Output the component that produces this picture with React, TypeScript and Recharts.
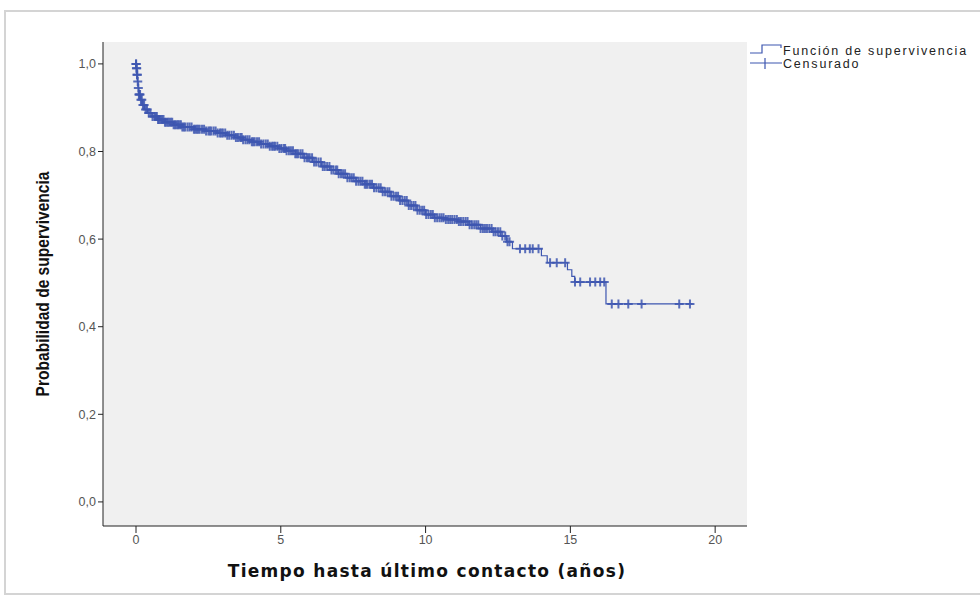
import React from 'react';
import { ComposedChart, Line, Scatter, XAxis, YAxis, CartesianGrid, Legend } from 'recharts';

// Kaplan-Meier step curve (time in years, survival probability)
const survTimes = [0, 0.01, 0.03, 0.05, 0.07, 0.1, 0.15, 0.22, 0.3, 0.4, 0.55, 0.75, 1.0, 1.3, 1.6, 2.0, 2.4, 2.8, 3.1, 3.4, 3.7, 4.0, 4.3, 4.6, 4.9, 5.2, 5.5, 5.8, 6.1, 6.4, 6.7, 7.0, 7.3, 7.6, 7.9, 8.2, 8.5, 8.8, 9.1, 9.4, 9.7, 10.0, 10.3, 10.7, 11.1, 11.5, 11.9, 12.3, 12.6, 12.8, 13.0, 14.0, 14.2, 14.9, 15.05, 15.15, 16.23, 19.22];
const survProbs = [1.0, 0.99, 0.975, 0.96, 0.945, 0.93, 0.918, 0.906, 0.896, 0.888, 0.88, 0.873, 0.867, 0.861, 0.856, 0.851, 0.847, 0.842, 0.837, 0.832, 0.827, 0.822, 0.817, 0.812, 0.807, 0.802, 0.795, 0.786, 0.776, 0.766, 0.758, 0.749, 0.74, 0.732, 0.725, 0.717, 0.708, 0.698, 0.688, 0.677, 0.666, 0.656, 0.649, 0.645, 0.64, 0.633, 0.624, 0.617, 0.607, 0.594, 0.578, 0.562, 0.546, 0.53, 0.515, 0.502, 0.452, 0.452];

// Censored observation times
const censorTimes = [0, 0.005, 0.015, 0.025, 0.035, 0.045, 0.06, 0.08, 0.1, 0.12, 0.14, 0.17, 0.2, 0.24, 0.28, 0.33, 0.38, 0.44, 0.5, 0.57, 0.64, 0.68, 0.72, 0.76, 0.8, 0.85, 0.9, 0.95, 1.0, 1.05, 1.1, 1.15, 1.2, 1.25, 1.3, 1.35, 1.4, 1.45, 1.5, 1.55, 1.6, 1.65, 1.7, 1.78, 1.85, 1.92, 2.0, 2.05, 2.1, 2.15, 2.2, 2.28, 2.35, 2.42, 2.5, 2.55, 2.6, 2.68, 2.75, 2.82, 2.9, 2.95, 3.0, 3.08, 3.15, 3.22, 3.3, 3.38, 3.45, 3.52, 3.6, 3.65, 3.7, 3.78, 3.85, 3.92, 4.0, 4.05, 4.1, 4.18, 4.25, 4.32, 4.4, 4.48, 4.55, 4.62, 4.7, 4.75, 4.8, 4.88, 4.95, 5.02, 5.1, 5.15, 5.2, 5.28, 5.35, 5.42, 5.5, 5.55, 5.6, 5.68, 5.75, 5.82, 5.9, 5.95, 6.0, 6.08, 6.15, 6.22, 6.3, 6.38, 6.45, 6.52, 6.6, 6.68, 6.75, 6.82, 6.9, 6.95, 7.0, 7.08, 7.15, 7.22, 7.3, 7.38, 7.45, 7.52, 7.6, 7.68, 7.75, 7.82, 7.9, 7.95, 8.0, 8.08, 8.15, 8.22, 8.3, 8.38, 8.45, 8.52, 8.6, 8.68, 8.75, 8.82, 8.9, 8.98, 9.05, 9.12, 9.2, 9.28, 9.35, 9.42, 9.5, 9.58, 9.65, 9.72, 9.8, 9.88, 9.95, 10.02, 10.1, 10.18, 10.25, 10.32, 10.4, 10.48, 10.55, 10.62, 10.7, 10.78, 10.85, 10.92, 11.0, 11.08, 11.15, 11.22, 11.3, 11.38, 11.45, 11.52, 11.6, 11.68, 11.75, 11.82, 11.9, 11.98, 12.05, 12.12, 12.2, 12.28, 12.35, 12.42, 12.5, 12.58, 12.65, 12.75, 12.83, 12.9, 13.26, 13.44, 13.6, 13.7, 13.9, 14.3, 14.53, 14.82, 15.16, 15.34, 15.68, 15.86, 16.03, 16.17, 16.43, 16.66, 17.0, 17.46, 18.76, 19.13];

const xTicks = [0, 5, 10, 15, 20];
const yTicks = [0, 0.2, 0.4, 0.6, 0.8, 1.0];

const seriesNames = ['Función de supervivencia', 'Censurado'];
const xTitle = 'Tiempo hasta último contacto (años)';
const yTitle = 'Probabilidad de supervivencia';

const BLUE = '#3d56b0';

const survData = survTimes.map((t, i) => ({ t, s: survProbs[i] }));
const survivalAt = (t: number) => {
  let v = survProbs[0];
  for (let i = 0; i < survTimes.length; i++) {
    if (survTimes[i] <= t) v = survProbs[i];
  }
  return v;
};
const censorData = censorTimes.map((t) => ({ t, s: survivalAt(t) }));

const PlusShape = (props: any) => {
  const { cx, cy } = props;
  if (cx == null || cy == null) return null;
  return (
    <path d={`M${cx - 4.5},${cy}h9M${cx},${cy - 4.5}v9`} stroke={BLUE} strokeWidth={2} strokeOpacity={0.85} fill="none" />
  );
};

const fmtComma = (v: number) => v.toFixed(1).replace('.', ',');

const LegendContent = () => (
  <svg width={232} height={40} style={{ overflow: 'visible', position: 'absolute', left: 0, top: 0 }}>
    <path d="M2,13 H14 V5 H33 V8" stroke={BLUE} strokeWidth={1.2} fill="none" />
    <text x={35} y={15} fontFamily="Liberation Sans, Arial, sans-serif" fontSize={12.5} letterSpacing={1.8} fill="#222">{seriesNames[0]}</text>
    <path d="M2,23 H34 M17,18 V29" stroke={BLUE} strokeWidth={1.2} fill="none" />
    <text x={35} y={28} fontFamily="Liberation Sans, Arial, sans-serif" fontSize={12.5} letterSpacing={1.8} fill="#222">{seriesNames[1]}</text>
  </svg>
);

const YTitle = (props: any) => {
  const vb = props.viewBox || { x: 43, y: 42, width: 60, height: 484 };
  const cx = vb.x - 1;
  const cy = vb.y + vb.height / 2;
  return (
    <text
      transform={`translate(${cx},${cy}) rotate(-90) scale(0.82,1)`}
      textAnchor="middle"
      dominantBaseline="central"
      fontFamily="Liberation Sans, Arial, sans-serif"
      fontWeight="bold"
      fontSize={19}
      fill="#111"
    >
      {yTitle}
    </text>
  );
};

const XTitle = (props: any) => {
  const vb = props.viewBox || { x: 103, y: 526, width: 644, height: 30 };
  return (
    <text
      x={vb.x + vb.width / 2 + 2}
      y={vb.y + 51}
      textAnchor="middle"
      fontFamily="DejaVu Sans, Verdana, sans-serif"
      fontWeight="bold"
      fontSize={17}
      letterSpacing={1.3}
      fill="#111"
    >
      {xTitle}
    </text>
  );
};

export default function App() {
  return (
    <div style={{ position: 'absolute', left: 0, top: 0, width: 980, height: 616, background: '#fff', overflow: 'hidden' }}>
      <div
        style={{
          position: 'absolute',
          left: 4,
          top: 10,
          width: 1000,
          height: 581,
          borderTop: '2px solid #d4d4d4',
          borderLeft: '2px solid #d4d4d4',
          borderBottom: '2px solid #d4d4d4',
        }}
      />
      <div style={{ position: 'absolute', left: 0, top: 0 }}>
        <ComposedChart width={980} height={616} margin={{ top: 42, right: 233, bottom: 60, left: 43 }}>
          <CartesianGrid fill="#f0f0f0" horizontal={false} vertical={false} />
          <XAxis
            xAxisId="main"
            dataKey="t"
            type="number"
            domain={[-1.14, 21.1]}
            ticks={xTicks}
            allowDataOverflow
            height={30}
            tickSize={7}
            tickMargin={2}
            stroke="#222"
            tick={{ fill: '#555', fontSize: 12.5, fontFamily: 'Liberation Sans, Arial, sans-serif' }}
            label={{ content: XTitle }}
          />
          <XAxis
            xAxisId="top"
            orientation="top"
            type="number"
            domain={[-1.14, 21.1]}
            height={0}
            tick={false}
            tickLine={false}
            stroke="#222"
          />
          <YAxis
            yAxisId="main"
            type="number"
            domain={[-0.055, 1.05]}
            ticks={yTicks}
            allowDataOverflow
            width={60}
            tickSize={5}
            tickMargin={2}
            stroke="#222"
            tickFormatter={fmtComma}
            tick={{ fill: '#555', fontSize: 12.5, fontFamily: 'Liberation Sans, Arial, sans-serif' }}
            label={{ content: YTitle }}
          />
          <YAxis
            yAxisId="right"
            orientation="right"
            type="number"
            domain={[-0.055, 1.05]}
            width={0}
            tick={false}
            tickLine={false}
            stroke="#333"
            strokeWidth={1.5}
          />
          <Line
            xAxisId="main"
            yAxisId="main"
            data={survData}
            dataKey="s"
            type="stepAfter"
            stroke={BLUE}
            strokeWidth={1.2}
            dot={false}
            activeDot={false}
            isAnimationActive={false}
            name={seriesNames[0]}
          />
          <Scatter
            xAxisId="main"
            yAxisId="main"
            data={censorData}
            dataKey="s"
            shape={PlusShape}
            isAnimationActive={false}
            name={seriesNames[1]}
          />
          <Legend
            layout="horizontal"
            verticalAlign="middle"
            align="right"
            content={LegendContent}
            wrapperStyle={{ left: 748, top: 40, width: 0, height: 0, right: 'auto', bottom: 'auto', overflow: 'visible' }}
          />
        </ComposedChart>
      </div>
    </div>
  );
}
